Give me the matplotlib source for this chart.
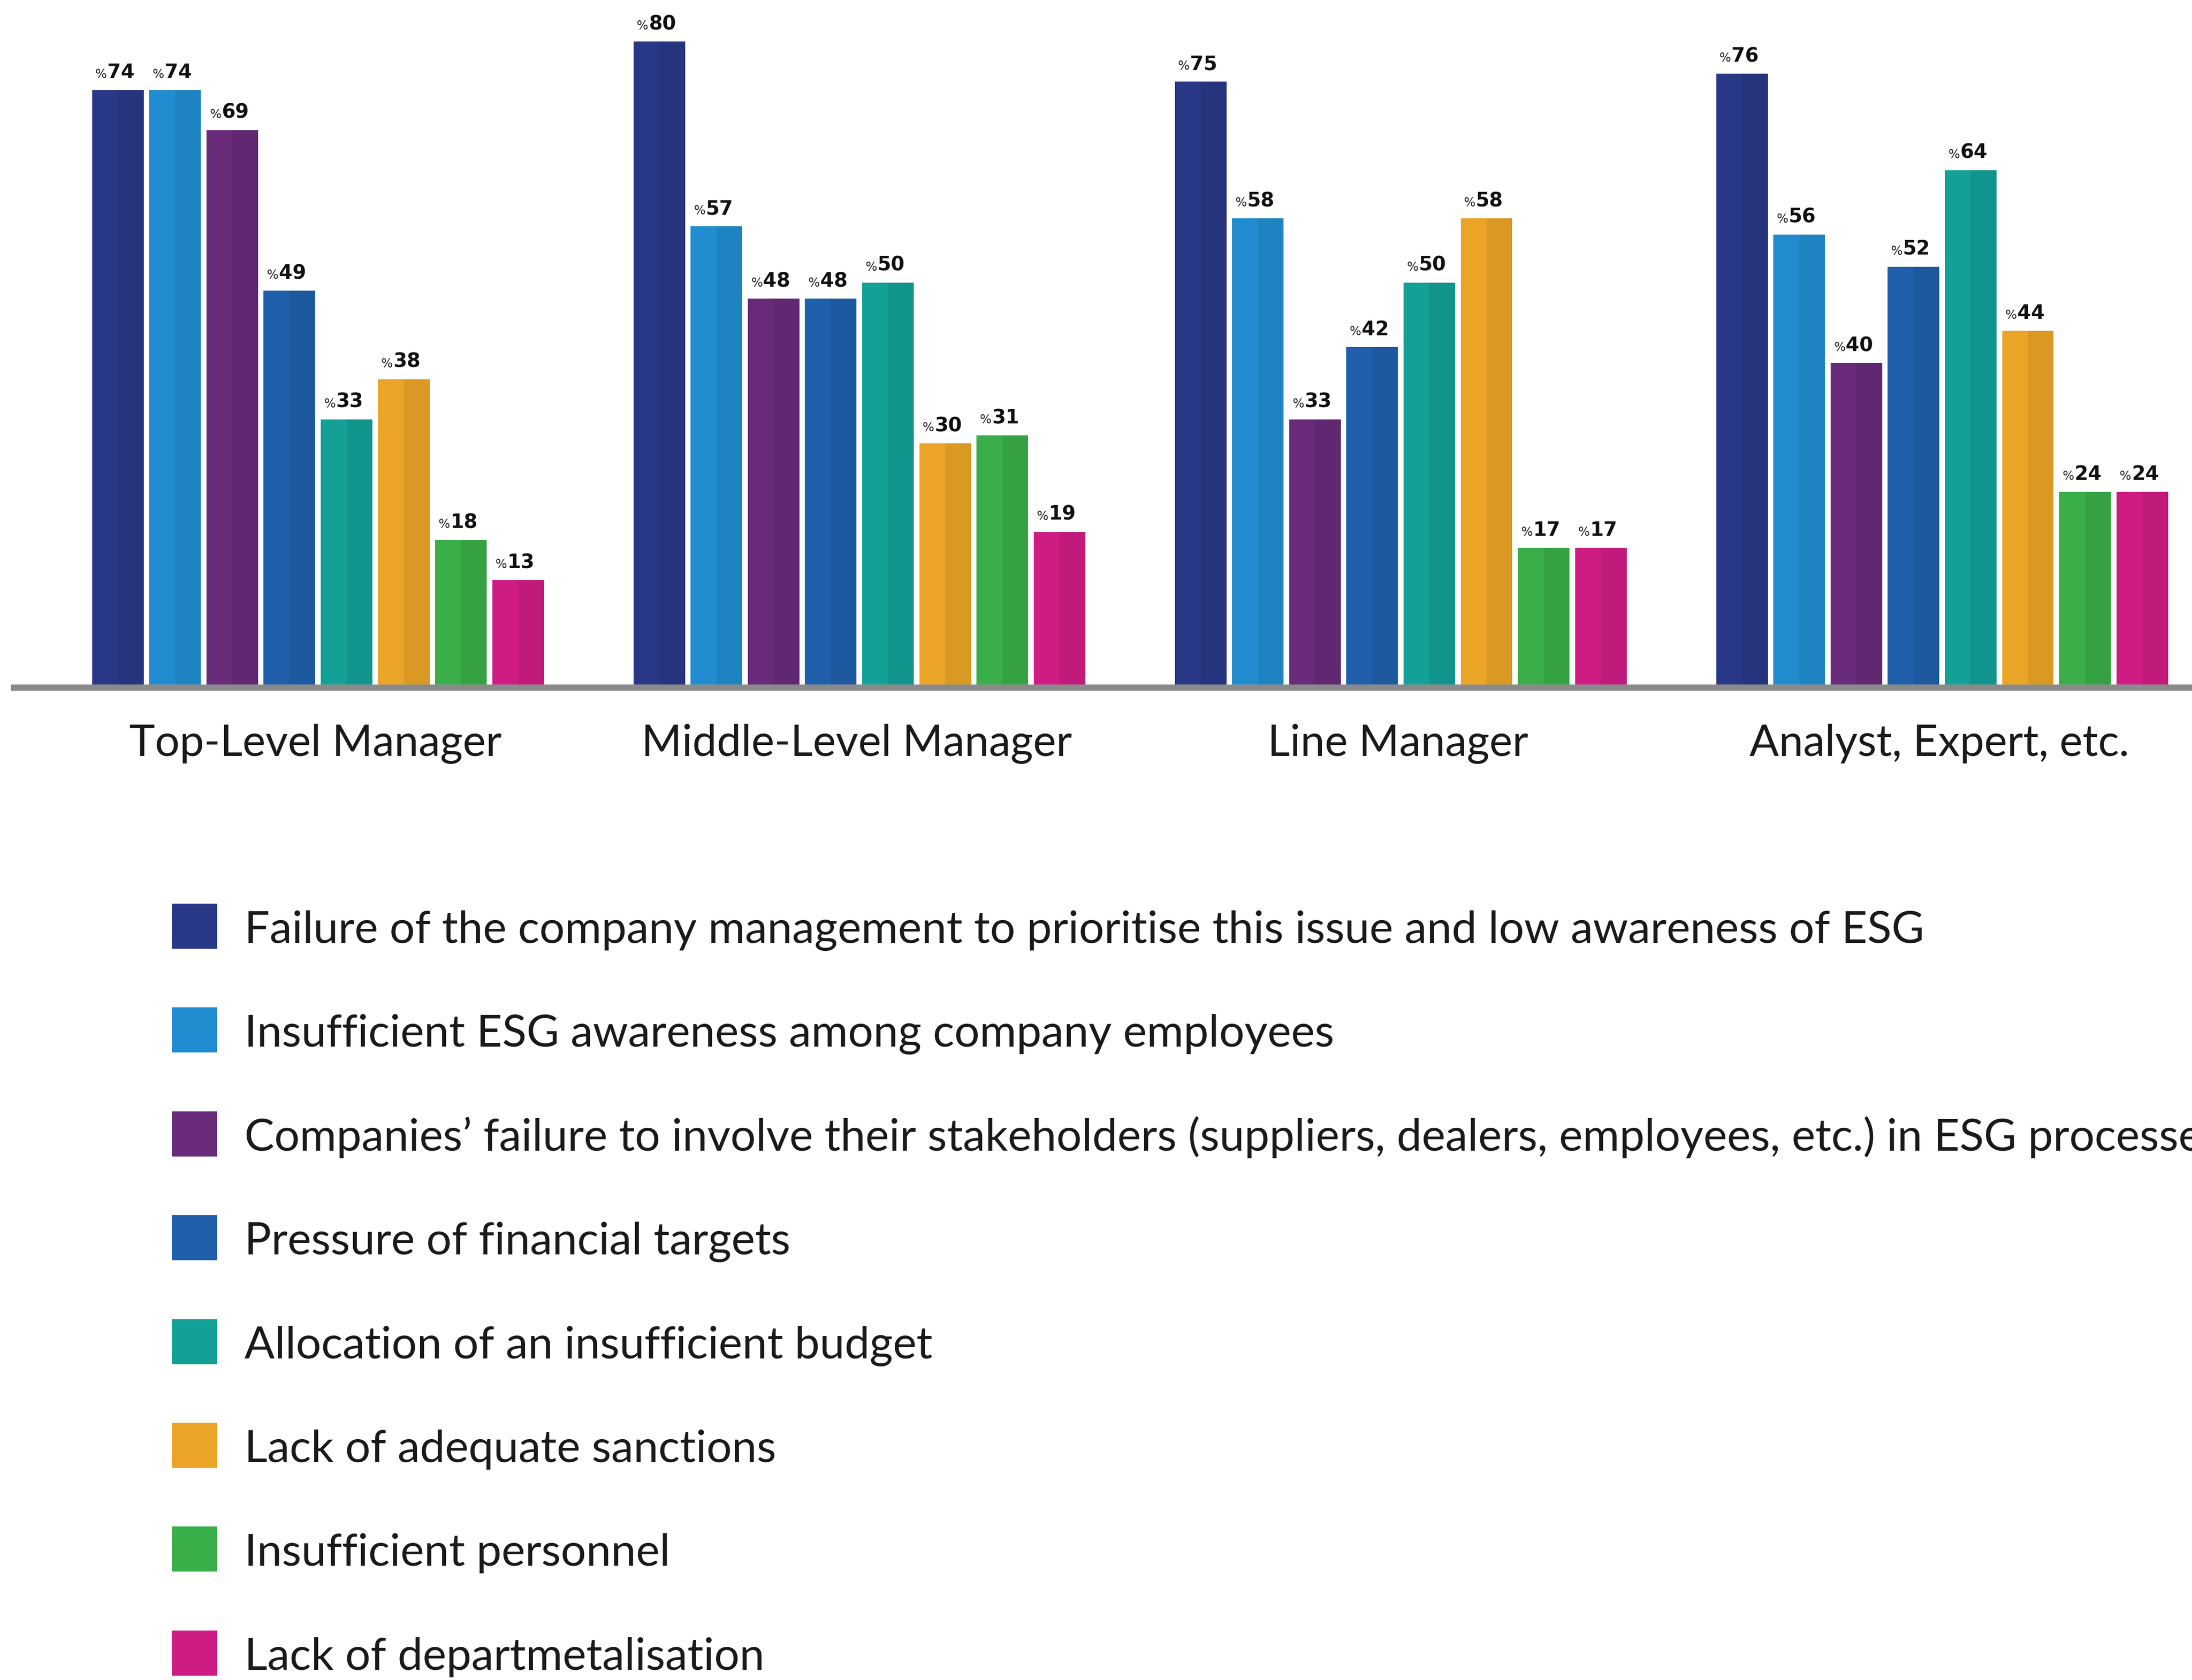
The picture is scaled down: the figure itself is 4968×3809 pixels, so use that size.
import matplotlib.pyplot as plt
from matplotlib.patches import Rectangle
import numpy as np

roles = ['Top-Level Manager', 'Middle-Level Manager', 'Line Manager', 'Analyst, Expert, etc.']
reasons = [
    'Failure of the company management to prioritise this issue and low awareness of ESG',
    'Insufficient ESG awareness among company employees',
    'Companies\u2019 failure to involve their stakeholders (suppliers, dealers, employees, etc.) in ESG processes',
    'Pressure of financial targets',
    'Allocation of an insufficient budget',
    'Lack of adequate sanctions',
    'Insufficient personnel',
    'Lack of departmetalisation',
]
colors = ['#283886', '#218dd0', '#6a2a7a', '#1f5fab', '#13a097', '#eba526', '#3aae48', '#cf1c84']

# percentages per role, one value per reason
top_level = [74, 74, 69, 49, 33, 38, 18, 13]
middle_level = [80, 57, 48, 48, 50, 30, 31, 19]
line_manager = [75, 58, 33, 42, 50, 58, 17, 17]
analyst = [76, 56, 40, 52, 64, 44, 24, 24]

W, H = 4968, 3809
fig = plt.figure(figsize=(W / 100, H / 100), dpi=100)
fig.patch.set_facecolor('white')

base_px = 1552
ax = fig.add_axes([0, 1 - base_px / H, 1, 0.4066])
ax.set_xlim(-0.5874, 3.4616)
ax.set_ylim(0, 85)
ax.axis('off')

data = np.array([top_level, middle_level, line_manager, analyst])
groups = np.arange(len(roles))
pitch, width = 0.1056, 0.0953

for j, (name, col) in enumerate(zip(reasons, colors)):
    xs = groups + (j - 3.5) * pitch
    vals = data[:, j]
    ax.bar(xs, vals, width=width, color=col, zorder=2)
    # darker right half gives the bars their slight shading
    ax.bar(xs + width * 0.25, vals, width=width * 0.5, color='black', alpha=0.07,
           zorder=2.1)
    for x, v in zip(xs, vals):
        ax.annotate('%', xy=(x, v), xytext=(-25, 27), textcoords='offset pixels',
                    ha='right', va='baseline', fontsize=20, color='#222222',
                    family='Liberation Sans Narrow')
        ax.annotate(f'{v}', xy=(x, v), xytext=(-24, 27), textcoords='offset pixels',
                    ha='left', va='baseline', fontsize=32, fontweight='bold',
                    color='#111111', family='Liberation Sans Narrow')

ax.axhline(-0.4, xmin=10 / 1568, xmax=1, color='#8a8a8a', lw=10, zorder=3,
           clip_on=False)

for i, role in enumerate(roles):
    ax.annotate(role, xy=(i, 0), xytext=(-6, -(1714 - base_px)),
                textcoords='offset pixels', ha='center', va='baseline',
                fontsize=71, color='#1a1a1a', family='Lato')

# legend rows
row0, step = 2100, 235.4
for k, (name, col) in enumerate(zip(reasons, colors)):
    yc = row0 + k * step
    fig.add_artist(Rectangle((390 / W, 1 - (yc + 50) / H), 101 / W, 101 / H,
                             transform=fig.transFigure, color=col))
    fig.text(554 / W, 1 - (yc + 38) / H, name, fontsize=73, va='baseline',
             color='#1a1a1a', family='Lato')

fig.savefig('out.png', dpi=100)
